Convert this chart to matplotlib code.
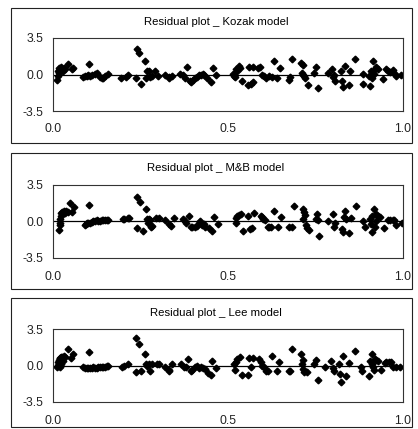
import matplotlib
matplotlib.use("Agg")
import matplotlib.pyplot as plt
from matplotlib.patches import Rectangle

# residui (x normalizzato, residuo)
kozak_x = [0.012, 0.014, 0.015, 0.017, 0.019, 0.022, 0.024, 0.027, 0.031, 0.034, 0.029, 0.017,
           0.043, 0.053, 0.058, 0.086, 0.091, 0.096, 0.101, 0.103, 0.105, 0.110, 0.120, 0.125,
           0.134, 0.139, 0.144, 0.148, 0.158, 0.194, 0.209, 0.214, 0.237, 0.241, 0.247, 0.251,
           0.263, 0.268, 0.266, 0.273, 0.276, 0.282, 0.290, 0.299, 0.321, 0.330,
           0.332, 0.340, 0.364, 0.370, 0.378, 0.383, 0.390, 0.395, 0.399, 0.405, 0.412, 0.416,
           0.424, 0.428, 0.431, 0.440, 0.450, 0.457, 0.466, 0.515, 0.517, 0.520, 0.524, 0.527,
           0.531, 0.534, 0.541, 0.558, 0.565, 0.571, 0.560, 0.571, 0.587, 0.592, 0.598, 0.603,
           0.608, 0.617, 0.625, 0.632, 0.641, 0.648,
           0.673, 0.677, 0.684, 0.708, 0.713, 0.711, 0.715, 0.718, 0.721, 0.728, 0.747, 0.751,
           0.758, 0.785, 0.797, 0.799, 0.804, 0.807, 0.823, 0.826, 0.828, 0.833, 0.845, 0.849,
           0.864, 0.885, 0.887, 0.903, 0.906, 0.909, 0.912, 0.914, 0.916, 0.919, 0.924, 0.929,
           0.943, 0.952, 0.957, 0.964, 0.970, 0.976, 0.981, 0.995]
kozak_y = [-0.48, -0.16, 0.32, 0.64, 0.48, 0.70, 0.64, 0.54, 0.64, 0.48, 0.32, 0.16,
           1.02, 0.54, 0.64, -0.26, -0.16, -0.16, 0.00, 1.02, -0.16, -0.06, 0.06, 0.16,
           -0.26, -0.32, -0.32, -0.16, 0.06, -0.32, -0.26, -0.06, -0.32, 2.40, 2.08, -0.90,
           1.34, 0.32, -0.32, 0.32, -0.26, -0.16, 0.38, -0.16, 0.00, -0.32,
           -0.26, -0.16, 0.06, -0.06, -0.32, 0.70, -0.64, -0.74, -0.48, -0.38, -0.26, -0.06,
           0.00, 0.06, -0.06, -0.32, -0.74, 0.64, -0.06, 0.06, -0.16, -0.26, 0.48, 0.32,
           0.80, 0.58, -0.64, -0.96, -0.90, -0.70, 0.70, 0.70, 0.64, 0.74, 0.00, -0.16,
           -0.32, -0.16, -0.26, 1.28, -0.32, 0.64,
           -0.48, -0.26, 1.44, 1.12, 0.90, 0.16, -0.06, -0.16, -0.32, -1.02, 0.16, 0.70,
           -1.28, 0.16, 0.48, -0.26, 0.00, -0.58, 0.38, -0.64, -1.22, 0.86, -0.96, 0.32,
           1.44, 0.06, -0.90, -0.16, -1.12, 0.32, -0.32, 1.28, 0.06, 0.54, 0.70, 0.48,
           -0.42, 0.48, 0.38, 0.26, 0.42, 0.06, -0.10, 0.00]

mb_x = [0.017, 0.019, 0.021, 0.019, 0.022, 0.024, 0.027, 0.031, 0.034, 0.038, 0.043, 0.048,
        0.053, 0.059, 0.091, 0.094, 0.098, 0.101, 0.103, 0.105, 0.110, 0.115, 0.120, 0.125,
        0.129, 0.134, 0.139, 0.144, 0.148, 0.153, 0.158, 0.199, 0.203, 0.213, 0.218, 0.241,
        0.249, 0.241, 0.257, 0.266, 0.268, 0.273, 0.270, 0.278, 0.283, 0.280, 0.295, 0.302,
        0.321, 0.330,
        0.338, 0.345, 0.370, 0.376, 0.380, 0.388, 0.393, 0.397, 0.405, 0.412, 0.416, 0.421,
        0.426, 0.431, 0.434, 0.445, 0.453, 0.459, 0.472, 0.522, 0.524, 0.527, 0.532, 0.536,
        0.544, 0.558, 0.562, 0.568, 0.574, 0.593, 0.598, 0.600, 0.606, 0.613, 0.617, 0.622,
        0.632, 0.644, 0.651,
        0.675, 0.682, 0.689, 0.713, 0.715, 0.718, 0.720, 0.723, 0.725, 0.732, 0.750, 0.753,
        0.756, 0.761, 0.785, 0.799, 0.804, 0.807, 0.826, 0.828, 0.830, 0.833, 0.837, 0.845,
        0.850, 0.866, 0.887, 0.890, 0.906, 0.909, 0.912, 0.912, 0.916, 0.919, 0.922, 0.924,
        0.929, 0.935, 0.945, 0.957, 0.964, 0.970, 0.974, 0.981, 0.998]
mb_y = [-0.80, -0.32, -0.10, 0.22, 0.48, 0.80, 0.95, 1.05, 0.80, 1.05, 0.95, 1.81,
        0.89, 1.43, -0.32, -0.22, -0.16, -0.10, 1.59, -0.10, -0.06, 0.00, 0.00, 0.10,
        0.00, 0.03, 0.10, 0.13, 0.13, 0.16, 0.16, 0.22, 0.22, 0.32, 0.32, 2.32,
        1.91, -0.64, -0.89, 1.18, 0.22, 0.22, -0.10, 0.16, -0.41, -0.57, 0.32, 0.32,
        0.10, -0.25,
        -0.41, 0.32, 0.22, 0.00, -0.10, 0.54, -0.48, -0.54, -0.48, -0.41, -0.16, 0.00,
        -0.32, -0.22, -0.48, -0.64, -0.95, 0.41, -0.22, -0.16, 0.32, 0.54, 0.64, 0.70,
        -0.89, 0.54, -0.73, -0.64, 0.86, 0.54, 0.41, 0.22, 0.10, -0.48, -0.48, -0.48,
        1.05, -0.48, 0.41,
        -0.48, -0.54, 1.49, 1.18, 0.22, 0.95, 0.64, -0.32, -0.64, -0.80, 0.22, 0.70,
        0.16, -1.37, 0.00, 0.70, -0.48, -0.16, -0.73, -1.05, 0.41, 1.05, 0.22, -1.11,
        0.38, 1.49, 0.00, -0.57, 0.22, -0.25, 0.54, -1.05, 1.18, -0.48, 0.00, 0.70,
        0.54, 0.41, -0.64, 0.16, 0.16, 0.16, 0.10, -0.32, -0.10]

lee_x = [0.012, 0.014, 0.015, 0.017, 0.019, 0.021, 0.024, 0.027, 0.031, 0.034, 0.029, 0.024,
         0.019, 0.043, 0.050, 0.056, 0.086, 0.091, 0.096, 0.101, 0.103, 0.105, 0.110, 0.115,
         0.120, 0.125, 0.129, 0.134, 0.139, 0.144, 0.148, 0.153, 0.158, 0.196, 0.203, 0.213,
         0.238, 0.247, 0.236, 0.251, 0.263, 0.266, 0.268, 0.274, 0.278, 0.282, 0.297, 0.302,
         0.321, 0.330,
         0.332, 0.340, 0.367, 0.373, 0.380, 0.386, 0.393, 0.397, 0.407, 0.412, 0.416, 0.424,
         0.428, 0.434, 0.443, 0.450, 0.455, 0.466, 0.517, 0.520, 0.524, 0.527, 0.533, 0.539,
         0.558, 0.560, 0.571, 0.565, 0.588, 0.593, 0.598, 0.603, 0.608, 0.613, 0.627, 0.639,
         0.646,
         0.673, 0.677, 0.684, 0.708, 0.711, 0.715, 0.713, 0.718, 0.725, 0.747, 0.751, 0.756,
         0.778, 0.794, 0.799, 0.804, 0.818, 0.821, 0.823, 0.828, 0.838, 0.847, 0.862, 0.881,
         0.883, 0.903, 0.907, 0.910, 0.912, 0.914, 0.916, 0.919, 0.924, 0.929, 0.938, 0.948,
         0.952, 0.960, 0.966, 0.972, 0.980, 0.990]
lee_y = [-0.19, 0.06, 0.32, 0.54, 0.70, 0.76, 0.83, 0.86, 0.92, 0.86, 0.45, 0.13,
         -0.10, 1.59, 0.70, 1.08, -0.19, -0.25, -0.25, -0.25, 1.34, -0.25, -0.25, -0.19,
         -0.25, -0.25, -0.19, -0.19, -0.19, -0.13, -0.10, -0.06, 0.00, -0.10, 0.00, 0.13,
         2.61, 2.03, -0.64, -0.57, 1.08, 0.13, 0.00, 0.13, -0.57, 0.13, 0.13, 0.13,
         -0.19, -0.41,
         -0.51, 0.13, 0.13, -0.10, -0.19, 0.60, -0.57, -0.41, -0.19, 0.00, -0.25, -0.10,
         -0.25, -0.32, -0.73, -0.95, 0.45, -0.25, 0.13, -0.41, 0.32, 0.64, 0.86, -0.95,
         -0.95, 0.70, 0.70, -0.19, 0.60, 0.32, 0.00, -0.19, -0.57, -0.51, 0.95, -0.51,
         0.32,
         -0.57, -0.51, 1.59, 1.08, 0.13, 0.54, -0.32, -0.64, -0.64, 0.13, 0.54, -1.37,
         -0.19, 0.45, -0.25, -0.51, 0.13, -0.83, -1.59, 0.95, -1.05, 0.22, 1.40, -0.10,
         -0.57, -1.05, 0.45, 1.08, 0.13, -0.10, -0.41, 0.64, 0.54, 0.45, -0.41, 0.22,
         0.32, 0.32, 0.38, -0.10, -0.10, -0.10]

titles = ["Residual plot _ Kozak model", "Residual plot _ M&B model", "Residual plot _ Lee model"]
y_ticks = [-3.5, 0.0, 3.5]
y_labels = ["-3.5", "0.0", "3.5"]
x_ticks = [0.0, 0.5, 1.0]
x_labels = ["0.0", "0.5", "1.0"]

W, H = 418, 429
plt.rcParams['font.family'] = ['Liberation Sans', 'DejaVu Sans']
fig = plt.figure(figsize=(W / 100, H / 100), dpi=100)
fig.patch.set_facecolor("white")

# posizioni in pixel: (box top, box bottom, axes top, axes bottom, title y)
layout = [(8, 143, 38, 111, 22),
          (153, 289, 185, 258, 168),
          (298, 427, 329, 402, 313)]
data = [(kozak_x, kozak_y), (mb_x, mb_y), (lee_x, lee_y)]

for (bt, bb, at, ab, ty), (xs, ys), title in zip(layout, data, titles):
    # riquadro esterno
    fig.patches.append(Rectangle((11 / W, 1 - bb / H), 401 / W, (bb - bt) / H,
                                 transform=fig.transFigure, fill=False,
                                 edgecolor="#222222", linewidth=0.8))
    fig.text(216 / W, 1 - ty / H, title, ha="center", va="center", fontsize=8.2)

    ax = fig.add_axes([53 / W, 1 - ab / H, 350 / W, (ab - at) / H])
    ax.axhline(0, color="black", linewidth=0.9, zorder=1)
    ax.plot(xs, ys, linestyle="none", marker="D", markersize=3.4,
            color="black", zorder=2)
    ax.set_xlim(0, 1)
    ax.set_ylim(-3.5, 3.5)
    ax.set_xticks(x_ticks)
    ax.set_xticklabels(x_labels)
    ax.set_yticks(y_ticks)
    ax.set_yticklabels(y_labels)
    ax.tick_params(length=0, labelsize=8.8, labelcolor="#222222")
    ax.tick_params(axis="x", pad=9)
    ax.tick_params(axis="y", pad=7)
    for s in ax.spines.values():
        s.set_color("#333333")
        s.set_linewidth(0.8)

fig.savefig("out.png", dpi=100)
